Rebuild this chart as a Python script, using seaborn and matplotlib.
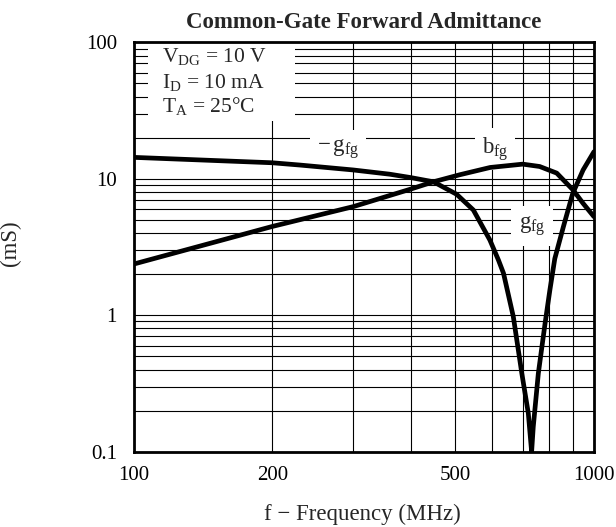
import numpy as np
import pandas as pd
import matplotlib
matplotlib.use("Agg")
import matplotlib.pyplot as plt
from matplotlib.patches import Rectangle
from matplotlib.ticker import FixedLocator, NullFormatter, FixedFormatter
import seaborn as sns

# ---- data ----
g_freq = [100, 200, 230, 300, 360, 400, 448, 503, 547, 594, 620, 636, 668, 697, 720, 732,
          738, 757, 783, 802, 822, 858, 899, 947, 1000]
g_val = [14.35, 13.1, 12.6, 11.6, 10.8, 10.2, 9.5, 7.7, 5.9, 3.56, 2.54, 2.03, 0.975, 0.375, 0.191, 0.1,
         0.152, 0.375, 0.873, 1.53, 2.6, 4.45, 7.8, 11.6, 15.8]

b_freq = [100, 200, 300, 398, 448, 511, 595, 700, 762, 830, 900, 947, 1000]
b_val = [2.37, 4.47, 6.25, 8.36, 9.5, 10.7, 12.1, 12.8, 12.3, 11.0, 8.3, 6.6, 5.27]

x_major = [100, 200, 500, 1000]
x_major_labels = ["100", "200", "500", "1000"]
x_minor = [300, 400, 600, 700, 800, 900]
y_major = [0.1, 1, 10, 100]
y_major_labels = ["0.1", "1", "10", "100"]

title = "Common-Gate Forward Admittance"
xlabel = "f \u2212 Frequency (MHz)"
ylabel = "(mS)"
cond_lines = [r"V$_{\mathrm{DG}}$ = 10 V", r"I$_{\mathrm{D}}$ = 10 mA", r"T$_{\mathrm{A}}$ = 25$\degree$C"]
lab_neg_g = "\u2212$\\,$g$_{\\mathrm{fg}}$"
lab_b = "b$_{\\mathrm{fg}}$"
lab_g = "g$_{\\mathrm{fg}}$"

df = pd.concat([
    pd.DataFrame({"freq": g_freq, "val": g_val, "series": "g"}),
    pd.DataFrame({"freq": b_freq, "val": b_val, "series": "b"}),
], ignore_index=True)

# ---- style ----
sns.set_style("white")
plt.rcParams["font.family"] = ["Liberation Serif", "DejaVu Serif"]
plt.rcParams["mathtext.fontset"] = "custom"
plt.rcParams["mathtext.rm"] = "Liberation Serif"
plt.rcParams["mathtext.it"] = "Liberation Serif:italic"
plt.rcParams["mathtext.bf"] = "Liberation Serif:bold"

FS = 16.5
CFS = 15.5
TFS = 15

fig = plt.figure(figsize=(6.16, 5.27), dpi=100)
ax = fig.add_axes([133.6 / 616, 1 - 451.7 / 527, (594 - 133.6) / 616, (451.7 - 42.3) / 527])

sns.lineplot(data=df, x="freq", y="val", hue="series", units="series", estimator=None,
             palette={"g": "black", "b": "black"}, linewidth=3.4, legend=False, ax=ax,
             sort=False, zorder=4)

ax.set_xscale("log")
ax.set_yscale("log")
ax.set_xlim(100, 1000)
ax.set_ylim(0.1, 100)

ax.xaxis.set_major_locator(FixedLocator(x_major))
ax.xaxis.set_major_formatter(FixedFormatter(x_major_labels))
ax.xaxis.set_minor_locator(FixedLocator(x_minor))
ax.xaxis.set_minor_formatter(NullFormatter())

ax.yaxis.set_major_locator(FixedLocator(y_major))
ax.yaxis.set_major_formatter(FixedFormatter(y_major_labels))
y_minor = [m * d for d in [0.1, 1, 10] for m in range(2, 10)]
ax.yaxis.set_minor_locator(FixedLocator(y_minor))
ax.yaxis.set_minor_formatter(NullFormatter())

ax.grid(True, which="both", color="black", linewidth=0.8)
ax.set_axisbelow(True)
for s in ax.spines.values():
    s.set_color("black")
    s.set_linewidth(2.0)
    s.set_zorder(5)

ax.tick_params(axis="both", which="both", length=0, labelsize=TFS, colors="black")
ax.tick_params(axis="x", pad=10)
ax.tick_params(axis="y", pad=12)

ax.set_xlabel(xlabel, fontsize=FS)
ax.xaxis.set_label_coords(0.497, -0.128)
ax.set_ylabel(ylabel, fontsize=FS)
ax.yaxis.set_label_coords(-0.245, 0.51)
ax.set_title(title, fontsize=FS, fontweight="bold", pad=10)

# condition box (white, hides grid)
ax.add_patch(Rectangle((0.031, 0.808), 0.32, 0.192, transform=ax.transAxes,
                       facecolor="white", edgecolor="none", zorder=1))
for yb, t in zip([0.952, 0.889, 0.830], cond_lines):
    ax.text(0.061, yb, t, transform=ax.transAxes, fontsize=CFS,
            ha="left", va="baseline", zorder=3)

ax.text(0.444, 0.74, lab_neg_g, transform=ax.transAxes, fontsize=FS, ha="center",
        va="center", bbox=dict(boxstyle="square,pad=0.3", facecolor="white", edgecolor="none"), zorder=3)
ax.text(0.785, 0.74, lab_b, transform=ax.transAxes, fontsize=FS, ha="center",
        va="center", bbox=dict(boxstyle="square,pad=0.3", facecolor="white", edgecolor="none"), zorder=3)
ax.text(0.865, 0.551, lab_g, transform=ax.transAxes, fontsize=FS, ha="center",
        va="center", bbox=dict(boxstyle="square,pad=0.35", facecolor="white", edgecolor="none"), zorder=3)

fig.savefig("out.png", dpi=100, facecolor="white")
